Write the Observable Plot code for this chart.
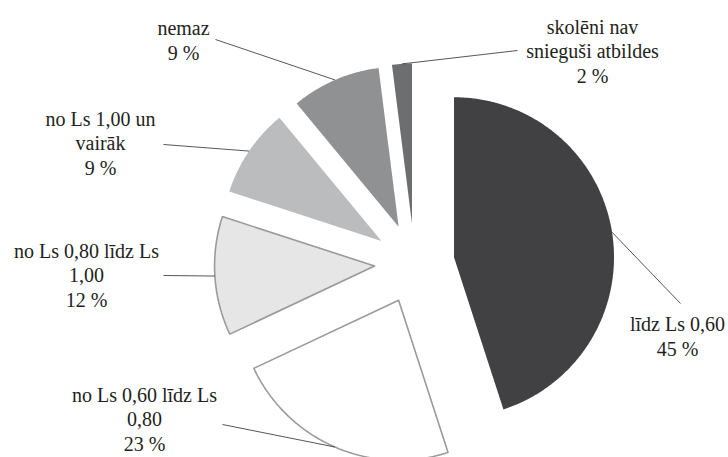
<!DOCTYPE html>
<html>
<head>
<meta charset="utf-8">
<script src="https://cdn.jsdelivr.net/npm/d3@7"></script>
<script src="https://cdn.jsdelivr.net/npm/@observablehq/plot@0.6"></script>
<style>
  html, body { margin: 0; padding: 0; background: #fff; }
</style>
</head>
<body>
<div id="chart"></div>
<script>
// ---- data ----
const categories = ["līdz Ls 0,60", "no Ls 0,60 līdz Ls 0,80", "no Ls 0,80 līdz Ls 1,00", "no Ls 1,00 un vairāk", "nemaz", "skolēni nav snieguši atbildes"];
const values = [45, 23, 12, 9, 9, 2];
const labelLines = [
  ["līdz Ls 0,60"],
  ["no Ls 0,60 līdz Ls", "0,80"],
  ["no Ls 0,80 līdz Ls", "1,00"],
  ["no Ls 1,00 un", "vairāk"],
  ["nemaz"],
  ["skolēni nav", "snieguši atbildes"]
];

// ---- styling / layout ----
const fills   = ["#414042", "#ffffff", "#e6e6e7", "#bbbcbe", "#909193", "#6d6e70"];
const strokes = ["none", "#9a9a9a", "#9a9a9a", "none", "none", "none"];
const W = 728, H = 457, CX = 414, CY = 263, R = 160;
const explode = 0.25;
// label block centre and leader end (in pixels)
const labelPx = [[677, 335], [144, 418], [86, 274], [100, 142], [183, 39], [592, 50]];
const leaderEndPx = [[680, 303], [222, 424], [163, 275], [163, 144], [215, 39], [517, 50]];
const toX = px => (px - CX) / R, toY = py => (CY - py) / R;

// ---- geometry from values ----
const total = d3.sum(values);
let acc = 0;
const slices = values.map((v, i) => {
  const a0 = acc / total * 2 * Math.PI;
  acc += v;
  const a1 = acc / total * 2 * Math.PI;
  const m = (a0 + a1) / 2;
  const ox = explode * Math.sin(m), oy = explode * Math.cos(m);
  const pts = [{x: ox, y: oy}];
  const n = Math.max(4, Math.ceil((a1 - a0) / (Math.PI / 360)));
  for (let k = 0; k <= n; k++) {
    const a = a0 + (a1 - a0) * k / n;
    pts.push({x: ox + Math.sin(a), y: oy + Math.cos(a)});
  }
  pts.push({x: ox, y: oy});
  return {i, pts, mid: {x: ox + Math.sin(m), y: oy + Math.cos(m)}};
});

const leaders = slices.map((s, i) => ({
  x1: s.mid.x, y1: s.mid.y,
  x2: toX(leaderEndPx[i][0]), y2: toY(leaderEndPx[i][1])
}));
const labels = categories.map((c, i) => ({
  x: toX(labelPx[i][0]), y: toY(labelPx[i][1]),
  text: [...labelLines[i], `${values[i]} %`].join("\n")
}));

const chart = Plot.plot({
  width: W, height: H, margin: 0,
  x: {domain: [toX(0), toX(W)], axis: null},
  y: {domain: [toY(H), toY(0)], axis: null},
  style: {background: "#fff"},
  marks: [
    ...slices.map(s => Plot.line(s.pts, {
      x: "x", y: "y", fill: fills[s.i], stroke: strokes[s.i],
      strokeWidth: 1.6, strokeLinejoin: "miter", curve: "linear"
    })),
    Plot.link(leaders, {x1: "x1", y1: "y1", x2: "x2", y2: "y2", stroke: "#444", strokeWidth: 0.9}),
    Plot.text(labels, {
      x: "x", y: "y", text: "text", fontSize: 20, fontFamily: "Liberation Serif",
      lineHeight: 1.23, lineAnchor: "middle", textAnchor: "middle", fill: "#231f20"
    })
  ]
});
document.getElementById("chart").appendChild(chart);
</script>
</body>
</html>
